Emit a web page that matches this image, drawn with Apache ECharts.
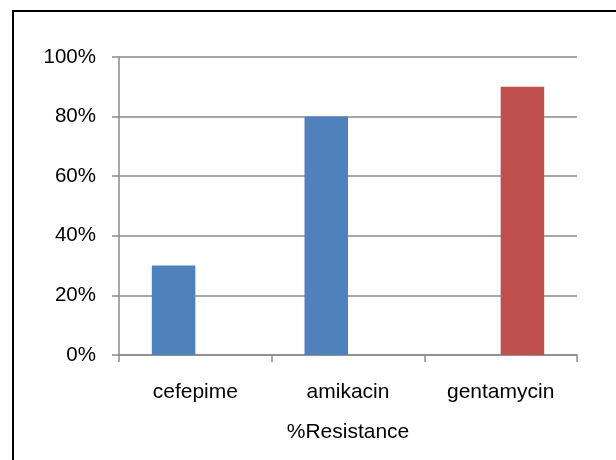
<!DOCTYPE html>
<html>
<head>
<meta charset="utf-8">
<script src="https://cdn.jsdelivr.net/npm/echarts@6/dist/echarts.min.js"></script>
<style>
  html, body { margin: 0; padding: 0; background: #fff; }
  #chart { width: 616px; height: 460px; }
</style>
</head>
<body>
<div id="chart"></div>
<script>
// Antibiotic resistance rates, in percent
const categories = ['cefepime', 'amikacin', 'gentamycin'];
const blueValues = [30, 80, null];
const redValues = [null, null, 90];
const yTicks = [0, 20, 40, 60, 80, 100];
const axisTitle = '%Resistance';

const FONT = '"Liberation Sans", Arial, sans-serif';
const GRID_GRAY = '#8a8a8a';

const chart = echarts.init(document.getElementById('chart'), null, { renderer: 'canvas' });
chart.setOption({
  backgroundColor: '#fff',
  animation: false,
  grid: { left: 119, right: 39, top: 57, bottom: 105 },
  xAxis: {
    type: 'category',
    data: categories,
    boundaryGap: true,
    axisLine: { lineStyle: { color: GRID_GRAY, width: 1.5 } },
    axisTick: { show: true, length: 7, alignWithLabel: false, lineStyle: { color: GRID_GRAY, width: 1.5 } },
    axisLabel: { color: '#000', fontFamily: FONT, fontSize: 21, margin: 27 }
  },
  yAxis: {
    type: 'value',
    min: yTicks[0],
    max: yTicks[yTicks.length - 1],
    interval: yTicks[1] - yTicks[0],
    axisLine: { show: true, lineStyle: { color: GRID_GRAY, width: 1.5 } },
    axisTick: { show: true, length: 7, lineStyle: { color: GRID_GRAY, width: 1.5 } },
    splitLine: { show: true, lineStyle: { color: GRID_GRAY, width: 1.5 } },
    axisLabel: { color: '#000', fontFamily: FONT, fontSize: 20.5, margin: 23, formatter: '{value}%' }
  },
  series: [
    {
      type: 'bar',
      data: blueValues,
      barWidth: 43.5,
      barGap: '0%',
      itemStyle: { color: '#4f81bd' }
    },
    {
      type: 'bar',
      data: redValues,
      barWidth: 43.5,
      barGap: '0%',
      itemStyle: { color: '#c0504d' }
    }
  ],
  graphic: [
    {
      type: 'rect',
      shape: { x: 13, y: 11, width: 700, height: 600 },
      style: { fill: 'none', stroke: '#000', lineWidth: 2 },
      silent: true
    },
    {
      type: 'text',
      x: 348,
      y: 432,
      style: {
        text: axisTitle,
        fill: '#000',
        font: '21px ' + FONT,
        textAlign: 'center',
        textVerticalAlign: 'middle'
      }
    }
  ]
});
</script>
</body>
</html>
